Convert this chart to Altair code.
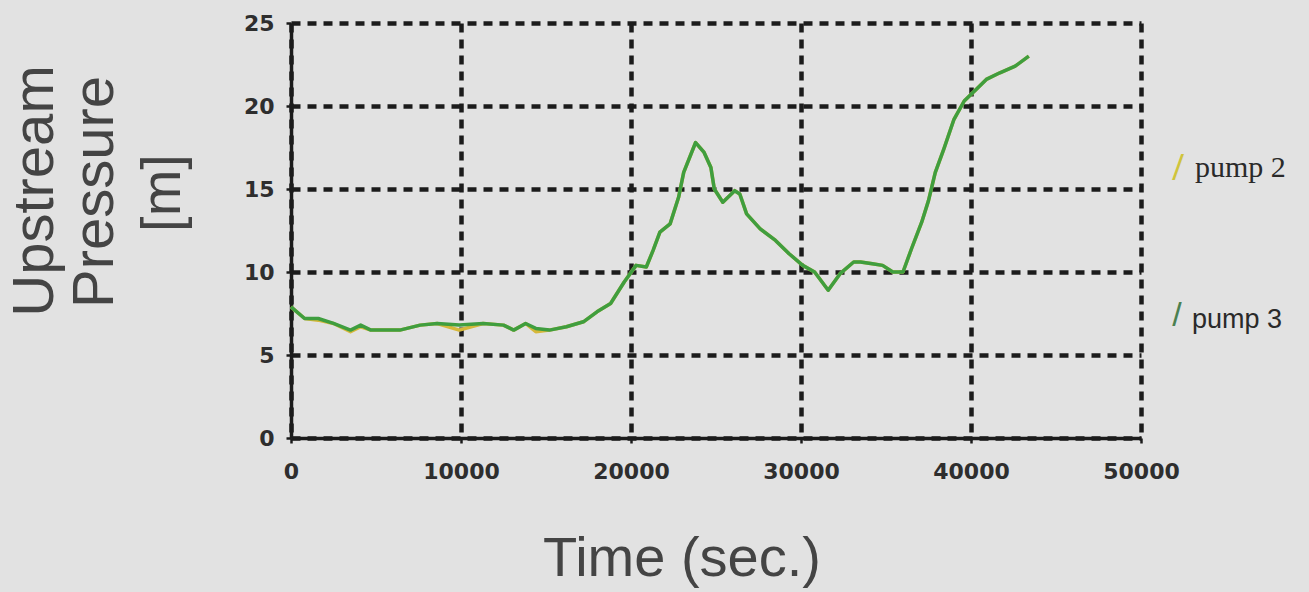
import altair as alt
import pandas as pd

# ---- data ----
time_s = [0, 800, 1600, 2500, 3500, 4100, 4700, 6400, 7600, 8600, 9900, 11300,
          12500, 13100, 13800, 14400, 15200, 16200, 17200, 18000, 18800, 19600,
          20300, 20900, 21300, 21700, 22300, 22800, 23100, 23800, 24300, 24700,
          24900, 25400, 26100, 26400, 26800, 27600, 28500, 29300, 30100, 30800,
          31600, 32300, 33100, 33500, 34200, 34800, 35400, 36000, 36500, 37100,
          37500, 37900, 38400, 39000, 39600, 40300, 40900, 41700, 42600, 43400]
pump3 = [7.9, 7.2, 7.2, 6.9, 6.5, 6.8, 6.5, 6.5, 6.8, 6.9, 6.8, 6.9,
         6.8, 6.5, 6.9, 6.6, 6.5, 6.7, 7.0, 7.6, 8.1, 9.4,
         10.4, 10.3, 11.3, 12.4, 12.9, 14.5, 16.0, 17.8, 17.2, 16.3,
         15.0, 14.2, 14.9, 14.7, 13.5, 12.6, 11.9, 11.1, 10.4, 10.0,
         8.9, 9.9, 10.6, 10.6, 10.5, 10.4, 10.0, 10.0, 11.4, 13.0,
         14.3, 16.0, 17.4, 19.2, 20.3, 21.0, 21.6, 22.0, 22.4, 23.0]
pump2 = [7.9, 7.2, 7.1, 6.9, 6.4, 6.7, 6.5, 6.5, 6.8, 6.9, 6.5, 6.9,
         6.8, 6.5, 6.9, 6.4, 6.5, 6.7, 7.0, 7.6, 8.1, 9.4,
         10.4, 10.3, 11.3, 12.4, 12.9, 14.5, 16.0, 17.8, 17.2, 16.3,
         15.0, 14.2, 14.9, 14.7, 13.5, 12.6, 11.9, 11.1, 10.4, 10.0,
         8.9, 9.9, 10.6, 10.6, 10.5, 10.4, 10.0, 10.0, 11.4, 13.0,
         14.3, 16.0, 17.4, 19.2, 20.3, 21.0, 21.6, 22.0, 22.4, 23.0]
series_names = ["pump 2", "pump 3"]
series_colors = ["#d6b83a", "#3f9e3f"]
x_ticks = [0, 10000, 20000, 30000, 40000, 50000]
y_ticks = [0, 5, 10, 15, 20, 25]

rows = []
for name, vals in zip(series_names, [pump2, pump3]):
    for t, v in zip(time_s, vals):
        rows.append({"time": t, "pressure": v, "series": name})
df = pd.DataFrame(rows)

W, H = 850, 415

lines = alt.Chart(df).mark_line(strokeWidth=3.5, strokeJoin="round").encode(
    x=alt.X("time:Q", scale=alt.Scale(domain=[0, 50000], nice=False),
            axis=alt.Axis(values=x_ticks, format="d", title=None, labelFlush=False,
                          labelOverlap=False, labelPadding=18, labelFont="DejaVu Sans",
                          labelFontWeight="bold", labelFontSize=22, labelColor="#2e2e2e")),
    y=alt.Y("pressure:Q", scale=alt.Scale(domain=[0, 25], nice=False),
            axis=alt.Axis(values=y_ticks, title=None, labelPadding=12,
                          labelFont="DejaVu Sans", labelFontWeight="bold",
                          labelFontSize=22, labelColor="#2e2e2e")),
    color=alt.Color("series:N", scale=alt.Scale(domain=series_names, range=series_colors),
                    legend=None),
    order=alt.Order("time:Q"),
)

one = pd.DataFrame({"k": [0]})

def label(text, x, y, size, font="Liberation Sans", color="#444444", angle=0,
          align="center", baseline="alphabetic", weight="normal"):
    kw = dict(fontSize=size, font=font, color=color, align=align,
              baseline=baseline, fontWeight=weight)
    if angle:
        kw["angle"] = angle
    return alt.Chart(one).mark_text(**kw).encode(
        x=alt.value(x), y=alt.value(y), text=alt.value(text))

texts = [
    label("Time (sec.)", 391, 553, 56),
    label("Upstream", -238, 168, 58, angle=270),
    label("Pressure", -178, 169, 58, angle=270),
    label("[m]", -111, 170, 56, angle=270),
    label("/", 887, 145, 40, font="Liberation Serif", color="#cfc43c", baseline="middle",
          weight="bold"),
    label("pump 2", 904, 154, 30, font="Liberation Serif", color="#2a2a2a", align="left"),
    label("/", 886, 293, 34, font="Liberation Sans", color="#4b8050", baseline="middle"),
    label("pump 3", 901, 305, 27, font="Liberation Sans", color="#2a2a2a", align="left"),
]

chart = alt.layer(lines, *texts).properties(
    width=W, height=H,
    padding={"left": 291, "top": 23, "right": 168, "bottom": 154},
    autosize=alt.AutoSizeParams(type="none"),
    background="#e2e2e2",
).configure_view(stroke=None).configure_axis(
    grid=True, gridColor="#1c1c1c", gridWidth=4.5, gridDash=[9, 7], gridOpacity=1,
    domainColor="#1c1c1c", domainWidth=3.5,
    tickColor="#1c1c1c", tickWidth=2.5, tickSize=5,
)

chart.save("out.html", embed_options={"renderer": "svg", "actions": False})
